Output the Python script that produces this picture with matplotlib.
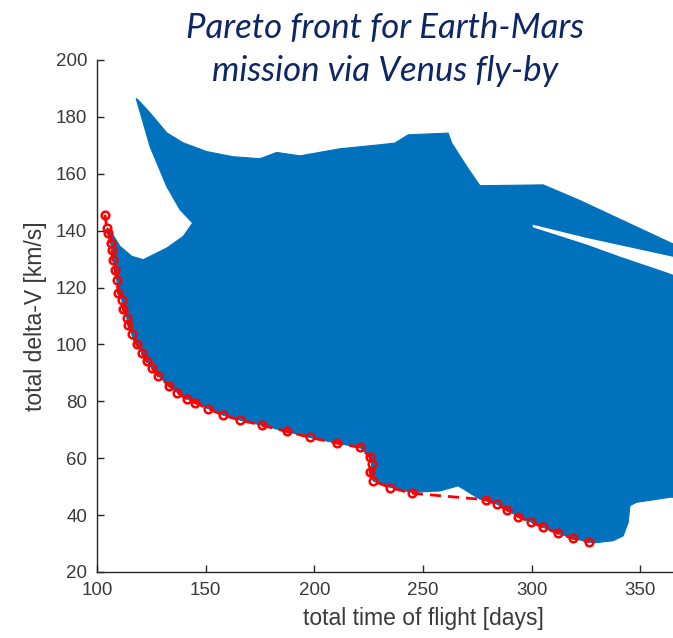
import numpy as np
import matplotlib
matplotlib.use("Agg")
import matplotlib.pyplot as plt

# pareto front (red)
pareto_tof = [103.7, 104.5, 105.2, 106.3, 106.8, 107.2, 108.3, 109.1, 109.8, 111.4,
              112.1, 113.7, 114.4, 116.0, 118.3, 120.6, 122.9, 125.2, 128.2, 133.3,
              136.9, 141.3, 145.1, 151.2, 158.1, 165.8, 175.8, 187.2, 198.0, 210.3,
              221.0, 225.6, 226.4, 225.6, 227.1, 234.8, 244.8, 278.9, 283.9, 288.5,
              293.7, 299.5, 305.3, 312.2, 319.1, 326.4]
pareto_dv = [145.6, 140.9, 139.2, 135.7, 133.3, 129.8, 126.3, 122.8, 118.1, 115.8,
             112.3, 109.4, 107.0, 103.5, 100.0, 97.1, 94.1, 91.8, 88.9, 85.4,
             83.1, 80.9, 79.5, 77.4, 75.1, 73.4, 71.6, 69.4, 67.3, 65.3,
             63.8, 60.4, 57.9, 55.0, 52.0, 49.7, 47.7, 45.4, 43.9, 41.9,
             39.5, 37.6, 35.7, 33.6, 31.8, 30.6]

# outline of the cloud of all solutions (blue), clockwise
cloud_tof = [104.6, 106.8, 110.6, 116.0, 121.3, 132.1, 139.7, 144.0,
             138.2, 132.1, 124.4, 118.0,
             119.5, 124.4, 132.1, 139.6, 150.5, 162.6, 175.0, 182.7, 193.4, 211.8,
             230.2, 237.1, 243.2, 261.6, 263.2, 270.1, 276.2, 305.3, 322.2, 364.0, 372.0,
             372.0, 364.0, 348.2, 345.2, 344.4, 342.1, 337.5, 328.3,
             319.1, 312.2, 305.3, 299.5, 293.7, 288.5, 283.9, 278.9, 276.2,
             266.2, 257.8, 244.8, 234.8, 227.1, 225.6, 226.4, 225.6, 221.0, 210.3,
             198.0, 187.2, 175.8, 165.8, 158.1, 151.2, 145.1, 141.3, 136.9, 133.3,
             128.2, 125.2, 122.9, 120.6, 118.3, 116.0, 114.4, 113.7, 112.1, 111.4,
             109.8, 109.1, 108.3, 107.2, 106.8, 106.3, 105.2]
cloud_dv = [141.1, 139.2, 134.5, 131.0, 129.8, 133.9, 138.0, 142.7,
            147.4, 155.5, 169.6, 186.5,
            185.5, 181.4, 174.4, 170.9, 167.8, 166.0, 165.3, 167.5, 166.3, 168.8,
            170.2, 170.8, 173.7, 174.3, 170.8, 162.6, 155.8, 156.1, 150.6, 135.7, 133.0,
            46.0, 46.3, 44.5, 43.3, 37.4, 32.7, 31.0, 30.2,
            31.8, 33.6, 35.7, 37.6, 39.5, 41.9, 43.9, 45.4, 45.6,
            50.3, 48.5, 48.0, 49.8, 52.0, 55.0, 57.9, 60.4, 63.8, 65.3,
            67.3, 69.4, 71.6, 73.4, 75.1, 77.4, 79.5, 80.9, 83.1, 85.4,
            88.9, 91.8, 94.1, 97.1, 100.0, 103.5, 107.0, 109.4, 112.3, 115.8,
            118.1, 122.8, 126.3, 129.8, 133.3, 135.7, 139.2]

# thin empty gap inside the cloud
gap_tof = [300.5, 325.0, 364.0, 372.0, 372.0, 362.2, 340.6, 325.4, 300.5]
gap_dv = [142.1, 137.5, 131.0, 129.6, 122.6, 125.3, 130.9, 135.1, 141.2]

x_ticks = [100, 150, 200, 250, 300, 350]
y_ticks = [20, 40, 60, 80, 100, 120, 140, 160, 180, 200]

plt.rcParams['font.family'] = ['Liberation Sans', 'DejaVu Sans']
axcol = '#262626'

fig = plt.figure(figsize=(6.73, 6.38), dpi=100)
ax = fig.add_axes([97/673, 66/638, 652/673, 512/638])

ax.fill(cloud_tof, cloud_dv, color='#0072BD', lw=0.8, ec='#0072BD', zorder=2)
ax.fill(gap_tof, gap_dv, color='white', lw=0, zorder=3)
ax.plot(pareto_tof, pareto_dv, 'r--o', lw=2, ms=5.5, mfc='none', mew=1.8,
        dashes=(4, 2.5), zorder=4)

ax.set_xlim(100, 400)
ax.set_ylim(20, 200)
ax.set_xticks(x_ticks)
ax.set_yticks(y_ticks)
for s in ['top', 'right']:
    ax.spines[s].set_visible(False)
for s in ['left', 'bottom']:
    ax.spines[s].set_color(axcol)
    ax.spines[s].set_linewidth(1.0)
ax.tick_params(direction='in', length=5, width=1, colors=axcol,
               labelsize=13.5, labelcolor='#3a3a3a', pad=7)

ax.set_xlabel('total time of flight [days]', fontsize=16.5, color='#3a3a3a', labelpad=6)
ax.set_ylabel('total delta-V [km/s]', fontsize=16.5, color='#3a3a3a', labelpad=6)

fig.text(385/673, 1 - 28/638, 'Pareto front for Earth-Mars', ha='center', va='center',
         fontsize=25, style='italic', color='#0E2566', family=['Lato', 'DejaVu Sans'])
fig.text(385/673, 1 - 71/638, 'mission via Venus fly-by', ha='center', va='center',
         fontsize=25, style='italic', color='#0E2566', family=['Lato', 'DejaVu Sans'])

fig.savefig('out.png', dpi=100)
